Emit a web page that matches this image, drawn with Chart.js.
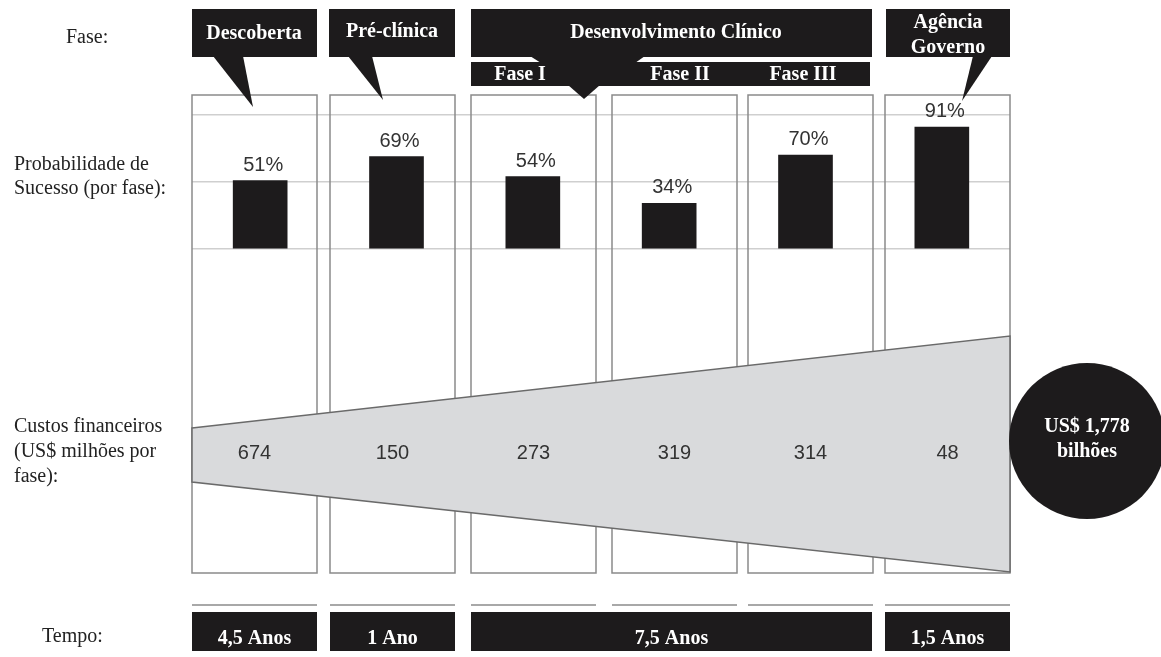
<!DOCTYPE html>
<html>
<head>
<meta charset="utf-8">
<script src="https://cdn.jsdelivr.net/npm/chart.js@4.4.1/dist/chart.umd.min.js"></script>
<style>
  html, body { margin: 0; background: #fff; }
  #wrap { width: 1161px; height: 657px; }
</style>
</head>
<body>
<div id="wrap"><canvas id="chart"></canvas></div>
<script>
// data
const phases = ['Descoberta', 'Pré-clínica', 'Fase I', 'Fase II', 'Fase III', 'Agência Governo'];
const successPct = [51, 69, 54, 34, 70, 91];
const costMillions = [674, 150, 273, 319, 314, 48];
const timeLabels = ['4,5 Anos', '1 Ano', '7,5 Anos', '1,5 Anos'];
const totalLabel = ['US$ 1,778', 'bilhões'];

// layout (pixels)
const serif = '"Liberation Serif", "Times New Roman", serif';
const sans = '"Liberation Sans", Arial, sans-serif';
const cols = [[192, 317], [330, 455], [471, 596], [612, 737], [748, 873], [885, 1010]];
const colTop = 95, colBottom = 573;
const timeSpans = [[192, 317], [330, 455], [471, 872], [885, 1010]];
const wedge = [[192, 428], [1010, 336], [1010, 572], [192, 482]];

function poly(ctx, pts) {
    ctx.beginPath();
    pts.forEach((p, i) => i ? ctx.lineTo(p[0], p[1]) : ctx.moveTo(p[0], p[1]));
    ctx.closePath();
}

function text(ctx, s, x, y, font, color, align) {
    ctx.font = font;
    ctx.fillStyle = color;
    ctx.textAlign = align || 'center';
    ctx.textBaseline = 'alphabetic';
    ctx.fillText(s, x, y);
}

const decor = {
    id: 'decor',
    beforeDatasetsDraw(chart) {
        const ctx = chart.ctx;
        ctx.save();
        // column outlines
        ctx.strokeStyle = '#8a8a8a';
        ctx.lineWidth = 1.5;
        cols.forEach(c => ctx.strokeRect(c[0], colTop, c[1] - c[0], colBottom - colTop));
        // cost wedge
        poly(ctx, wedge);
        ctx.fillStyle = '#d9dadc';
        ctx.fill();
        ctx.strokeStyle = '#6a6a6a';
        ctx.lineWidth = 1.5;
        ctx.stroke();
        ctx.restore();
    },
    afterDatasetsDraw(chart) {
        const ctx = chart.ctx;
        const meta = chart.getDatasetMeta(0);
        ctx.save();

        // percentages above bars
        meta.data.forEach((bar, i) => {
            text(ctx, successPct[i] + '%', bar.x + 3, bar.y - 10, '20px ' + sans, '#333');
        });
        // costs inside wedge
        costMillions.forEach((v, i) => {
            text(ctx, String(v), (cols[i][0] + cols[i][1]) / 2, 459, '20px ' + sans, '#333');
        });

        // callouts
        const dark = '#1d1b1c';
        ctx.fillStyle = dark;
        ctx.fillRect(192, 9, 125, 48);
        poly(ctx, [[213, 56], [243, 56], [253, 107]]); ctx.fill();
        ctx.fillRect(329, 9, 126, 48);
        poly(ctx, [[348, 56], [372, 56], [383, 100]]); ctx.fill();
        ctx.fillRect(471, 9, 401, 48);
        ctx.fillRect(471, 62, 399, 24);
        poly(ctx, [[530, 56], [645, 56], [635, 63], [541, 63]]); ctx.fill();
        poly(ctx, [[568, 85], [600, 85], [584, 99]]); ctx.fill();
        ctx.fillRect(886, 9, 124, 48);
        poly(ctx, [[973, 56], [992, 56], [962, 101]]); ctx.fill();

        const bold = 'bold 20px ' + serif;
        text(ctx, 'Descoberta', 254, 39, bold, '#fff');
        text(ctx, 'Pré-clínica', 392, 37, bold, '#fff');
        text(ctx, 'Desenvolvimento Clínico', 676, 38, bold, '#fff');
        text(ctx, 'Fase I', 520, 80, bold, '#fff');
        text(ctx, 'Fase II', 680, 80, bold, '#fff');
        text(ctx, 'Fase III', 803, 80, bold, '#fff');
        text(ctx, 'Agência', 948, 28, bold, '#fff');
        text(ctx, 'Governo', 948, 53, bold, '#fff');

        // total cost circle
        ctx.beginPath();
        ctx.arc(1087, 441, 78, 0, Math.PI * 2);
        ctx.fillStyle = dark;
        ctx.fill();
        text(ctx, totalLabel[0], 1087, 432, bold, '#fff');
        text(ctx, totalLabel[1], 1087, 457, bold, '#fff');

        // time row
        ctx.fillStyle = '#a8a8a8';
        cols.forEach(c => ctx.fillRect(c[0], 604, c[1] - c[0], 2));
        timeSpans.forEach((s, i) => {
            ctx.fillStyle = dark;
            ctx.fillRect(s[0], 612, s[1] - s[0], 39);
            text(ctx, timeLabels[i], (s[0] + s[1]) / 2, 644, bold, '#fff');
        });

        // row labels
        const reg = '20px ' + serif;
        text(ctx, 'Fase:', 66, 43, reg, '#222', 'left');
        text(ctx, 'Probabilidade de', 14, 170, reg, '#222', 'left');
        text(ctx, 'Sucesso (por fase):', 14, 194, reg, '#222', 'left');
        text(ctx, 'Custos financeiros', 14, 432, reg, '#222', 'left');
        text(ctx, '(US$ milhões por', 14, 457, reg, '#222', 'left');
        text(ctx, 'fase):', 14, 482, reg, '#222', 'left');
        text(ctx, 'Tempo:', 42, 642, reg, '#222', 'left');
        ctx.restore();
    }
};

new Chart(document.getElementById('chart'), {
    type: 'bar',
    data: {
        labels: phases,
        datasets: [{ data: successPct, backgroundColor: '#1d1b1c', barThickness: 54 }]
    },
    options: {
        responsive: true,
        maintainAspectRatio: false,
        animation: false,
        layout: { padding: { left: 192, right: 151, top: 115, bottom: 408 } },
        plugins: { legend: { display: false }, tooltip: { enabled: false } },
        scales: {
            x: { display: false },
            y: {
                min: 0, max: 100,
                ticks: { display: false, stepSize: 50 },
                grid: { color: '#cfcfcf', lineWidth: 1.5, drawTicks: false },
                border: { display: false }
            }
        }
    },
    plugins: [decor]
});
</script>
</body>
</html>
